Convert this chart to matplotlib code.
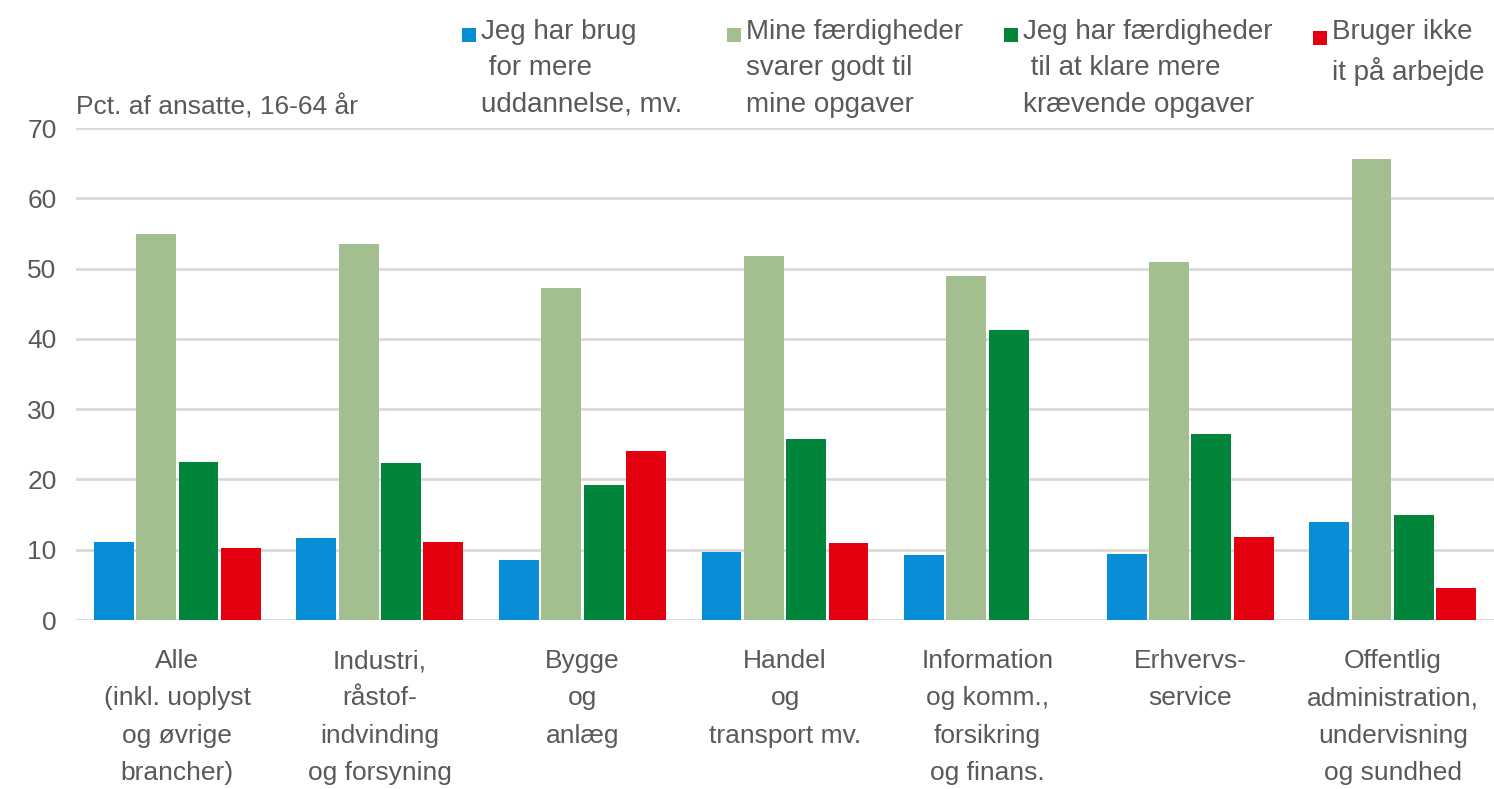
import matplotlib
matplotlib.use("Agg")
import matplotlib.pyplot as plt
from matplotlib.patches import Patch, Rectangle
import numpy as np

plt.rcParams['font.family'] = ['Liberation Sans', 'DejaVu Sans']

# Data (pct. of employees, 16-64 years)
categories = ["Alle\n(inkl. uoplyst\nog øvrige\nbrancher)",
              "Industri,\nråstof-\nindvinding\nog forsyning",
              "Bygge\nog\nanlæg",
              "Handel\nog\ntransport mv.",
              "Information\nog komm.,\nforsikring\nog finans.",
              "Erhvervs-\nservice",
              "Offentlig\nadministration,\nundervisning\nog sundhed"]
brug_for_mere = [11.1, 11.6, 8.6, 9.7, 9.3, 9.4, 14.0]
svarer_godt = [54.9, 53.5, 47.3, 51.8, 48.9, 51.0, 65.6]
klare_mere = [22.5, 22.4, 19.2, 25.7, 41.2, 26.4, 14.9]
bruger_ikke_it = [10.2, 11.1, 24.0, 10.9, 0.0, 11.8, 4.5]

series_labels = ["Jeg har brug\n for mere\nuddannelse, mv.",
                 "Mine færdigheder\nsvarer godt til\nmine opgaver",
                 "Jeg har færdigheder\n til at klare mere\nkrævende opgaver",
                 "Bruger ikke\nit på arbejde\n "]
colors = ["#078ED6", "#A3BE8F", "#00853B", "#E3000F"]
yticks = [0, 10, 20, 30, 40, 50, 60, 70]

text_color = "#595959"
grid_color = "#D9D9D9"
fs = 19
leg_fs = 20


class TopSquare:
    # legend handle: square sitting on the baseline of the label's first line
    def __init__(self, offset):
        self.offset = offset

    def legend_artist(self, legend, orig_handle, fontsize, handlebox):
        size = handlebox.width
        r = Rectangle((-handlebox.xdescent, self.offset * fontsize), size, size,
                      facecolor=orig_handle.get_facecolor(), edgecolor="none",
                      transform=handlebox.get_transform())
        handlebox.add_artist(r)
        return r


fig = plt.figure(figsize=(14.94, 7.89), dpi=100)
ax = fig.add_axes([76 / 1494, 169 / 789, 1418 / 1494, 492 / 789])

x = np.arange(len(categories))
step = 0.209
width = 0.197
all_series = [brug_for_mere, svarer_godt, klare_mere, bruger_ikke_it]
for i, (vals, col) in enumerate(zip(all_series, colors)):
    ax.bar(x + (i - 1.5) * step, vals, width, color=col, edgecolor="none", zorder=3)

ax.set_xlim(-0.5, 6.5)
ax.set_ylim(0, 70)
ax.set_yticks(yticks)
ax.set_yticklabels([str(t) for t in yticks])
ax.set_xticks(x)
ax.set_xticklabels(categories, linespacing=1.7)
ax.tick_params(axis="both", length=0, labelsize=fs, labelcolor=text_color)
ax.tick_params(axis="y", pad=14)
ax.tick_params(axis="x", pad=21)
ax.yaxis.grid(True, color=grid_color, linewidth=2, zorder=0)
for s in ax.spines.values():
    s.set_visible(False)

ax.text(0, 1.018, "Pct. af ansatte, 16-64 år", transform=ax.transAxes,
        fontsize=fs, color=text_color, ha="left", va="bottom")

# one legend block per series, placed like the evenly spaced Excel legend
legend_x = [462, 727, 1004, 1313]
for lab, col, lx in zip(series_labels, colors, legend_x):
    leg = fig.legend([Patch(facecolor=col)], [lab], loc="upper left",
                     bbox_to_anchor=(lx / 1494, 1 - 19 / 789), frameon=False,
                     fontsize=leg_fs, borderpad=0, borderaxespad=0,
                     handlelength=0.5, handleheight=0.7, handletextpad=0.18,
                     handler_map={Patch: TopSquare(1.30)})
    for t in leg.get_texts():
        t.set_color(text_color)
        t.set_linespacing(1.52)

fig.savefig("out.png", dpi=100)
